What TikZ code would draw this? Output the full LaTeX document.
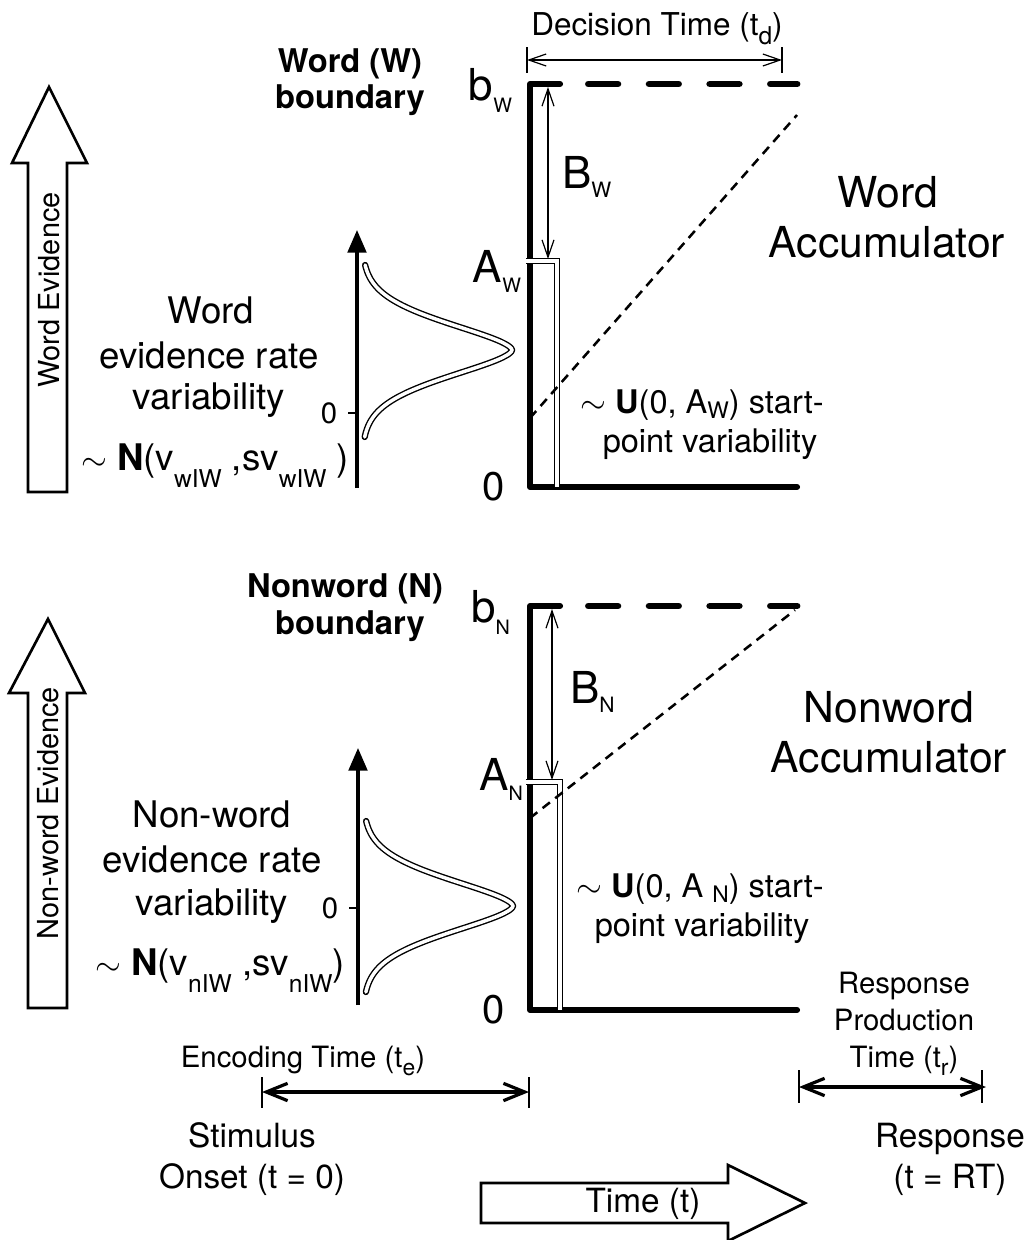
\documentclass[tikz,border=0pt]{standalone}
\usepackage{fontspec}
\setmainfont{TeX Gyre Heros}
\usepackage{graphicx}
\usetikzlibrary{arrows.meta}
\newcommand{\lsub}[3]{\raisebox{-#2ex}{\scalebox{#1}{#3}}}
\newcommand{\myfs}[1]{\fontsize{#1}{#1}\selectfont}
\begin{document}
\begin{tikzpicture}[x=0.75pt,y=-0.75pt,
  every node/.style={inner sep=0pt, outer sep=0pt},
  thickax/.style={line width=4.6pt, line cap=round, line join=round},
  bdash/.style={line width=5.2pt, line cap=round, dash pattern=on 22pt off 23.5pt},
  dbl/.style={draw=black, line width=0.95pt, double=white, double distance=2.3pt},
  dblc/.style={draw=black, line width=1.05pt, double=white, double distance=2.6pt, line cap=round, line join=round},
  thinarr/.style={line width=0.9pt, {Straight Barb[length=13pt,width=9pt]}-{Straight Barb[length=13pt,width=9pt]}},
  timearr/.style={line width=2.4pt, {Straight Barb[length=16pt,width=13pt]}-{Straight Barb[length=16pt,width=13pt]}},
  tick/.style={line width=1.4pt},
  diag/.style={line width=1.9pt, dash pattern=on 7pt off 5pt},
  bigarrow/.style={draw, line width=2pt, line join=miter, fill=white},
  distax/.style={line width=2.4pt, -{Triangle[length=17pt,width=14pt]}},
  big/.style={font=\myfs{33}},
  zero/.style={font=\myfs{30}},
  bnd/.style={font=\bfseries\myfs{24.5}},
  rate/.style={font=\myfs{27.5}},
  acc/.style={font=\myfs{32}},
  spv/.style={font=\myfs{24.4}},
  evid/.style={font=\myfs{21.7}, rotate=90},
  small/.style={font=\myfs{22}},
  mid/.style={font=\myfs{25}},
  ticklab/.style={font=\myfs{22}}
]
\useasboundingbox (0,0) rectangle (1026,1240);

% ---------------- Big evidence arrows ----------------
\draw[bigarrow] (28,492) -- (28,163) -- (12,163) -- (49,87) -- (87,163) -- (67,163) -- (67,492) -- cycle;
\node[evid] (wev) at (49,290) {Word Evidence};
\draw[bigarrow] (28,1008) -- (28,693) -- (9,693) -- (48,619) -- (85,693) -- (67,693) -- (67,1008) -- cycle;
\node[evid] (nev) at (48,813) {Non-word Evidence};

% ---------------- Word accumulator ----------------
\coordinate (wA) at (530,84);
\coordinate (wO) at (530,487);
\coordinate (wE) at (797,487);
\coordinate (wS) at (560,84);
\draw[thickax] (wS) -- (wA) -- (wO) -- (wE);
\coordinate (wd1) at (588.5,84);
\coordinate (wd2) at (797,84);
\draw[bdash] (wd1) -- (wd2);
\coordinate (wb1) at (526,261);
\coordinate (wb2) at (557,261);
\coordinate (wb3) at (557,487);
\draw[dbl] (wb1) -- (wb2) -- (wb3);
\coordinate (wdg1) at (530,418);
\coordinate (wdg2) at (797,115);
\draw[diag] (wdg1) -- (wdg2);
\coordinate (wB1) at (548,87);
\coordinate (wB2) at (548,259);
\draw[thinarr] (wB1) -- (wB2);
% decision time
\coordinate (dt1) at (527,60);
\coordinate (dt2) at (782,60);
\draw[thinarr] (dt1) -- (dt2);
\draw[line width=0.9pt] (527,47) -- (527,73) (782,47) -- (782,73);
\node[font=\myfs{23.6}, anchor=base] (dtl) at (657,35) {Decision Time (t\lsub{0.78}{0.55}{d})};

\node[big, anchor=base east] (bW) at (512,100) {b\lsub{0.45}{0.55}{W}};
\node[big, anchor=base east] (AW) at (521,282) {A\lsub{0.45}{0.45}{W}};
\node[big, anchor=base west] (BW) at (562,188) {B\lsub{0.48}{0.4}{W}};
\node[zero] (zW) at (494,487) {0};

\node[bnd, anchor=base] (wbd1) at (350,72) {Word (W)};
\node[bnd, anchor=base] (wbd2) at (350,108) {boundary};

\node[acc, anchor=base] (wac1) at (888,207) {Word};
\node[acc, anchor=base] (wac2) at (887,257) {Accumulator};

\node[spv, anchor=base] (wsp1) at (702,413) {$\sim$ \textbf{U}(0, A\lsub{0.7}{0.3}{W}) start-};
\node[spv, anchor=base] (wsp2) at (710,452) {point variability};

% word rate distribution
\coordinate (wax1) at (357,488);
\coordinate (wax2) at (357,230);
\draw[distax] (wax1) -- (wax2);
\draw[tick, line width=2pt] (348,413) -- (357,413);
\node[ticklab] (wz) at (329,413) {0};
\draw[dblc] plot[domain=265:349.98, samples=60, smooth] ({362+150*exp(-pow(abs(\x-350)/38,1.68))},\x)
  -- plot[domain=350.02:437, samples=60, smooth] ({362+150*exp(-pow(abs(\x-350)/38,1.68))},\x);

\node[rate, anchor=base] (wr1) at (211,323) {Word};
\node[rate, anchor=base] (wr2) at (209,368) {evidence rate};
\node[rate, anchor=base] (wr3) at (209,409) {variability};
\node[rate, anchor=base] (wr4) at (215,470) {$\sim$ \textbf{N}(v\lsub{0.67}{0.9}{wIW} ,sv\lsub{0.67}{0.9}{wIW} )};

% ---------------- Nonword accumulator ----------------
\coordinate (nA) at (530,606);
\coordinate (nO) at (530,1010);
\coordinate (nE) at (797,1010);
\coordinate (nS) at (560,606);
\draw[thickax] (nS) -- (nA) -- (nO) -- (nE);
\coordinate (nd1) at (588.5,606);
\coordinate (nd2) at (797,606);
\draw[bdash] (nd1) -- (nd2);
\coordinate (nb1) at (526,782);
\coordinate (nb2) at (560,782);
\coordinate (nb3) at (560,1010);
\draw[dbl] (nb1) -- (nb2) -- (nb3);
\coordinate (ndg1) at (530,818);
\coordinate (ndg2) at (795,610);
\draw[diag] (ndg1) -- (ndg2);
\coordinate (nB1) at (552,609);
\coordinate (nB2) at (552,780);
\draw[thinarr] (nB1) -- (nB2);

\node[big, anchor=base east] (bN) at (510,622) {b\lsub{0.45}{0.55}{N}};
\node[big, anchor=base east] (AN) at (523,790) {A\lsub{0.45}{0.45}{N}};
\node[big, anchor=base west] (BN) at (570,703) {B\lsub{0.48}{0.4}{N}};
\node[zero] (zN) at (494,1010) {0};

\node[bnd, anchor=base] (nbd1) at (345,597) {Nonword (N)};
\node[bnd, anchor=base] (nbd2) at (350,634) {boundary};

\node[acc, anchor=base] (nac1) at (889,722) {Nonword};
\node[acc, anchor=base] (nac2) at (889,772) {Accumulator};

\node[spv, anchor=base] (nsp1) at (700,897) {$\sim$ \textbf{U}(0, A \lsub{0.7}{0.3}{N}) start-};
\node[spv, anchor=base] (nsp2) at (702,936) {point variability};

\coordinate (nax1) at (358,1005);
\coordinate (nax2) at (358,748);
\draw[distax] (nax1) -- (nax2);
\draw[tick, line width=2pt] (349,908) -- (358,908);
\node[ticklab] (nz) at (330,908) {0};
\draw[dblc] plot[domain=821:905.98, samples=60, smooth] ({363+150*exp(-pow(abs(\x-906)/38,1.68))},\x)
  -- plot[domain=906.02:992, samples=60, smooth] ({363+150*exp(-pow(abs(\x-906)/38,1.68))},\x);

\node[rate, anchor=base] (nr1) at (212,827) {Non-word};
\node[rate, anchor=base] (nr2) at (212,872) {evidence rate};
\node[rate, anchor=base] (nr3) at (212,915) {variability};
\node[rate, anchor=base] (nr4) at (220,975) {$\sim$ \textbf{N}(v\lsub{0.67}{0.9}{nIW} ,sv\lsub{0.67}{0.9}{nIW})};

% ---------------- Time annotations ----------------
\node[small, anchor=base] (enc) at (303,1067) {Encoding Time (t\lsub{0.78}{0.55}{e})};
\coordinate (ea1) at (262,1092);
\coordinate (ea2) at (529,1092);
\draw[timearr] (ea1) -- (ea2);
\draw[tick] (262,1077) -- (262,1108) (529,1077) -- (529,1108);

\node[mid, anchor=base] (st1) at (252,1147) {Stimulus};
\node[mid, anchor=base] (st2) at (252,1188) {Onset (t = 0)};

\node[small, anchor=base] (rp1) at (904,993) {Response};
\node[small, anchor=base] (rp2) at (904,1030) {Production};
\node[small, anchor=base] (rp3) at (904,1067) {Time (t\lsub{0.78}{0.55}{r})};
\coordinate (ra1) at (799,1087);
\coordinate (ra2) at (986,1087);
\draw[timearr] (ra1) -- (ra2);
\draw[tick] (799,1070) -- (799,1103) (982,1070) -- (982,1103);

\node[mid, anchor=base] (rs1) at (950,1147) {Response};
\node[mid, anchor=base] (rs2) at (950,1188) {(t = RT)};

\draw[bigarrow] (481,1183) -- (728,1183) -- (728,1165) -- (805,1203) -- (728,1241) -- (728,1223) -- (481,1223) -- cycle;
\node[mid, anchor=base] (tt) at (643,1212) {Time (t)};
\end{tikzpicture}
\end{document}
